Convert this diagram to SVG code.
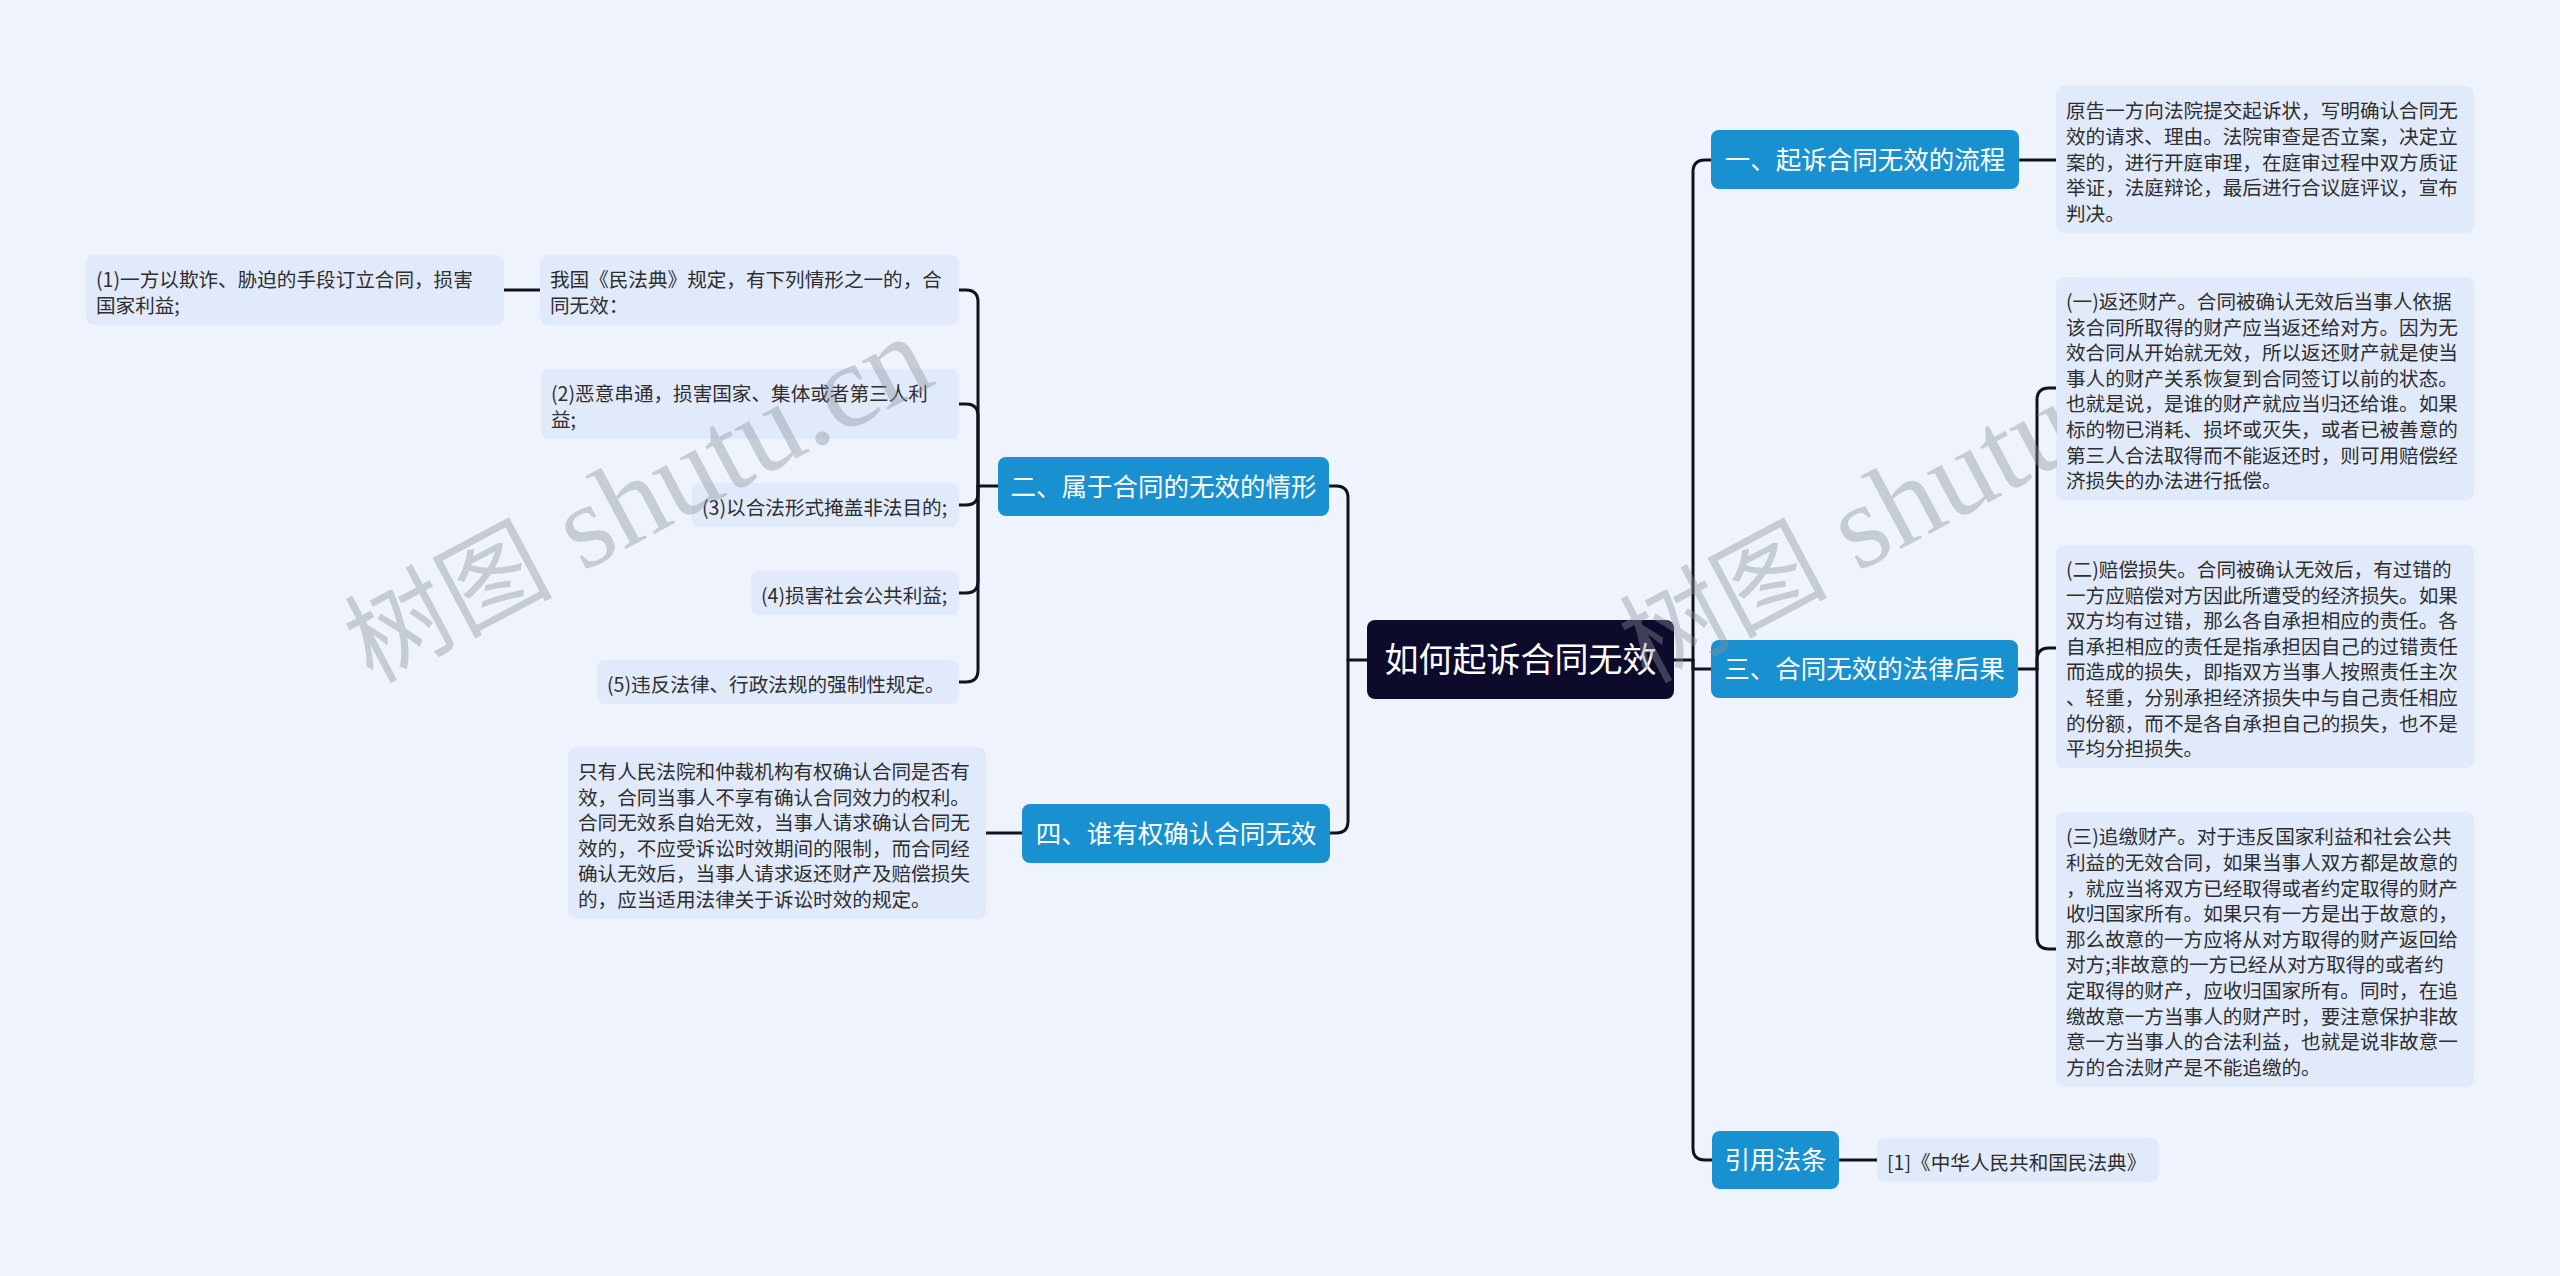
<svg xmlns="http://www.w3.org/2000/svg" width="2560" height="1276" viewBox="0 0 2560 1276">
<style>
.bg{fill:#eef3fd}
.conn path{fill:none;stroke:#11111f;stroke-width:3;stroke-linecap:round}
.root rect{fill:#0c0b2c}
.root text{fill:#ffffff;font-family:"Noto Sans CJK SC",sans-serif;font-size:34px;text-anchor:middle}
.br rect{fill:#1990d0}
.br text{fill:#ffffff;font-family:"Noto Sans CJK SC",sans-serif;font-size:25.5px;text-anchor:middle}
.lf rect{fill:#e1eafb}
.lf text{fill:#2e2e2e;font-family:"Noto Sans CJK SC",sans-serif;font-size:19.6px}
.wm{fill:#8a909c;fill-opacity:0.4;font-family:"Liberation Serif","Noto Sans CJK SC",serif;font-size:120px}
.wm .cj{font-size:104px}
</style>
<defs>
<clipPath id="wmclip"><rect x="0" y="0" width="2057" height="1276"/></clipPath>
</defs>
<rect class="bg" x="0" y="0" width="2560" height="1276"/>

<g id="connectors" class="conn">
<path d="M1674,660 H1693 V172 Q1693,160 1705,160 H1711"/>
<path d="M1693,660 V669 H1711"/>
<path d="M1693,660 V1148 Q1693,1160 1705,1160 H1712"/>
<path d="M2019,160 H2056"/>
<path d="M2018,669 H2037 V400 Q2037,388 2049,388 H2056"/>
<path d="M2037,669 V660 Q2037,648 2049,648 H2056"/>
<path d="M2037,669 V937 Q2037,949 2049,949 H2056"/>
<path d="M1839,1160 H1877"/>
<path d="M1367,660 H1348 V498 Q1348,486 1336,486 H1329"/>
<path d="M1348,660 V821 Q1348,833 1336,833 H1330"/>
<path d="M998,486 H978 V302 Q978,290 966,290 H959"/>
<path d="M978,486 V416 Q978,404 966,404 H959"/>
<path d="M978,486 V493 Q978,505 966,505 H959"/>
<path d="M978,486 V581 Q978,593 966,593 H959"/>
<path d="M978,486 V670 Q978,682 966,682 H959"/>
<path d="M540,290 H504"/>
<path d="M1022,833 H986"/>
</g>

<g id="root" class="root">
<rect x="1367" y="620" width="307" height="79" rx="8"/>
<text x="1520.5" y="672">如何起诉合同无效</text>
</g>

<g id="b1" class="br">
<rect x="1711" y="130" width="308" height="59" rx="8"/>
<text x="1865" y="168.5">一、起诉合同无效的流程</text>
</g>
<g id="b3" class="br">
<rect x="1711" y="640" width="307" height="58" rx="8"/>
<text x="1864.5" y="678">三、合同无效的法律后果</text>
</g>
<g id="b5" class="br">
<rect x="1712" y="1131" width="127" height="58" rx="8"/>
<text x="1775.5" y="1169">引用法条</text>
</g>
<g id="b2" class="br">
<rect x="998" y="457" width="331" height="59" rx="8"/>
<text x="1163.5" y="495.5">二、属于合同的无效的情形</text>
</g>
<g id="b4" class="br">
<rect x="1022" y="804" width="308" height="59" rx="8"/>
<text x="1176" y="842.5">四、谁有权确认合同无效</text>
</g>

<g id="r1" class="lf">
<rect x="2056" y="86" width="418" height="147" rx="8"/>
<text><tspan x="2066" y="118.3">原告一方向法院提交起诉状，写明确认合同无</tspan><tspan x="2066" y="143.9">效的请求、理由。法院审查是否立案，决定立</tspan><tspan x="2066" y="169.5">案的，进行开庭审理，在庭审过程中双方质证</tspan><tspan x="2066" y="195.1">举证，法庭辩论，最后进行合议庭评议，宣布</tspan><tspan x="2066" y="220.7">判决。</tspan></text>
</g>

<g id="r3a" class="lf">
<rect x="2056" y="277" width="418" height="223" rx="8"/>
<text><tspan x="2066" y="308.9">(一)返还财产。合同被确认无效后当事人依据</tspan><tspan x="2066" y="334.5">该合同所取得的财产应当返还给对方。因为无</tspan><tspan x="2066" y="360.1">效合同从开始就无效，所以返还财产就是使当</tspan><tspan x="2066" y="385.7">事人的财产关系恢复到合同签订以前的状态。</tspan><tspan x="2066" y="411.3">也就是说，是谁的财产就应当归还给谁。如果</tspan><tspan x="2066" y="436.9">标的物已消耗、损坏或灭失，或者已被善意的</tspan><tspan x="2066" y="462.5">第三人合法取得而不能返还时，则可用赔偿经</tspan><tspan x="2066" y="488.1">济损失的办法进行抵偿。</tspan></text>
</g>

<g id="r3b" class="lf">
<rect x="2056" y="545" width="418" height="223" rx="8"/>
<text><tspan x="2066" y="576.9">(二)赔偿损失。合同被确认无效后，有过错的</tspan><tspan x="2066" y="602.5">一方应赔偿对方因此所遭受的经济损失。如果</tspan><tspan x="2066" y="628.1">双方均有过错，那么各自承担相应的责任。各</tspan><tspan x="2066" y="653.7">自承担相应的责任是指承担因自己的过错责任</tspan><tspan x="2066" y="679.3">而造成的损失，即指双方当事人按照责任主次</tspan><tspan x="2066" y="704.9">、轻重，分别承担经济损失中与自己责任相应</tspan><tspan x="2066" y="730.5">的份额，而不是各自承担自己的损失，也不是</tspan><tspan x="2066" y="756.1">平均分担损失。</tspan></text>
</g>

<g id="r3c" class="lf">
<rect x="2056" y="812" width="418" height="275" rx="8"/>
<text><tspan x="2066" y="844.3">(三)追缴财产。对于违反国家利益和社会公共</tspan><tspan x="2066" y="869.9">利益的无效合同，如果当事人双方都是故意的</tspan><tspan x="2066" y="895.5">，就应当将双方已经取得或者约定取得的财产</tspan><tspan x="2066" y="921.1">收归国家所有。如果只有一方是出于故意的，</tspan><tspan x="2066" y="946.7">那么故意的一方应将从对方取得的财产返回给</tspan><tspan x="2066" y="972.3">对方;非故意的一方已经从对方取得的或者约</tspan><tspan x="2066" y="997.9">定取得的财产，应收归国家所有。同时，在追</tspan><tspan x="2066" y="1023.5">缴故意一方当事人的财产时，要注意保护非故</tspan><tspan x="2066" y="1049.1">意一方当事人的合法利益，也就是说非故意一</tspan><tspan x="2066" y="1074.7">方的合法财产是不能追缴的。</tspan></text>
</g>

<g id="r5" class="lf">
<rect x="1877" y="1138" width="282" height="44" rx="8"/>
<text x="1887" y="1170">[1]《中华人民共和国民法典》</text>
</g>

<g id="l1" class="lf">
<rect x="540" y="255" width="419" height="70" rx="8"/>
<text><tspan x="550" y="287.2">我国《民法典》规定，有下列情形之一的，合</tspan><tspan x="550" y="312.8">同无效：</tspan></text>
</g>
<g id="l0" class="lf">
<rect x="86" y="255" width="418" height="70" rx="8"/>
<text><tspan x="96" y="287.2">(1)一方以欺诈、胁迫的手段订立合同，损害</tspan><tspan x="96" y="312.8">国家利益;</tspan></text>
</g>
<g id="l2" class="lf">
<rect x="541" y="369" width="418" height="70" rx="8"/>
<text><tspan x="551" y="401.2">(2)恶意串通，损害国家、集体或者第三人利</tspan><tspan x="551" y="426.8">益;</tspan></text>
</g>
<g id="l3" class="lf">
<rect x="692" y="483" width="267" height="44" rx="8"/>
<text x="702" y="515">(3)以合法形式掩盖非法目的;</text>
</g>
<g id="l4" class="lf">
<rect x="751" y="571" width="208" height="44" rx="8"/>
<text x="761" y="603">(4)损害社会公共利益;</text>
</g>
<g id="l5" class="lf">
<rect x="597" y="660" width="362" height="44" rx="8"/>
<text x="607" y="692">(5)违反法律、行政法规的强制性规定。</text>
</g>
<g id="l6" class="lf">
<rect x="568" y="747" width="418" height="172" rx="8"/>
<text><tspan x="578" y="779">只有人民法院和仲裁机构有权确认合同是否有</tspan><tspan x="578" y="804.6">效，合同当事人不享有确认合同效力的权利。</tspan><tspan x="578" y="830.2">合同无效系自始无效，当事人请求确认合同无</tspan><tspan x="578" y="855.8">效的，不应受诉讼时效期间的限制，而合同经</tspan><tspan x="578" y="881.4">确认无效后，当事人请求返还财产及赔偿损失</tspan><tspan x="578" y="907">的，应当适用法律关于诉讼时效的规定。</tspan></text>
</g>

<g id="watermarks">
<text class="wm" transform="translate(372,684) rotate(-28)"><tspan class="cj">树图</tspan> shutu.cn</text>
<g clip-path="url(#wmclip)">
<text class="wm" transform="translate(1647,684) rotate(-28)"><tspan class="cj">树图</tspan> shutu.cn</text>
</g>
</g>
</svg>
